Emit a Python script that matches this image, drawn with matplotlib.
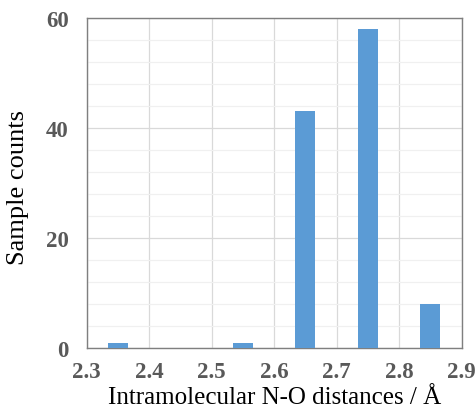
import matplotlib
matplotlib.use("Agg")
import matplotlib.pyplot as plt
from matplotlib.ticker import MultipleLocator

# histogram of intramolecular N-O distances
bin_centers = [2.35, 2.55, 2.65, 2.75, 2.85]
counts = [1, 1, 43, 58, 8]

plt.rcParams['font.family'] = ['Liberation Serif', 'DejaVu Serif']

fig = plt.figure(figsize=(4.75, 4.14), dpi=100)
ax = fig.add_axes([86.7 / 475, 1 - 349.3 / 414, 375 / 475, 330.6 / 414])

ax.bar(bin_centers, counts, width=0.032, color='#5B9BD5', zorder=3)

ax.set_xlim(2.3, 2.9)
ax.set_ylim(0, 60)
ax.xaxis.set_major_locator(MultipleLocator(0.1))
ax.yaxis.set_major_locator(MultipleLocator(20))
ax.yaxis.set_minor_locator(MultipleLocator(4))
ax.grid(True, which='major', color='#D9D9D9', linewidth=0.9, zorder=0)
ax.grid(True, which='minor', axis='y', color='#F0F0F0', linewidth=0.9, zorder=0)
ax.set_axisbelow(True)

for s in ax.spines.values():
    s.set_color('#7F7F7F')
    s.set_linewidth(1.0)

ax.tick_params(which='both', length=0)
ax.tick_params(axis='x', pad=9)
ax.tick_params(axis='y', pad=13)
ax.set_xticklabels([f"{v:.1f}" for v in ax.get_xticks()])
for lab in ax.get_xticklabels() + ax.get_yticklabels():
    lab.set_fontweight('bold')
    lab.set_color('#595959')
    lab.set_fontsize(16.5)

ax.set_xlabel("Intramolecular N-O distances / Å", fontsize=18, labelpad=3)
ax.set_ylabel("Sample counts", fontsize=19)
ax.yaxis.set_label_coords(-0.155, 0.49)

fig.savefig("out.png", dpi=100)
